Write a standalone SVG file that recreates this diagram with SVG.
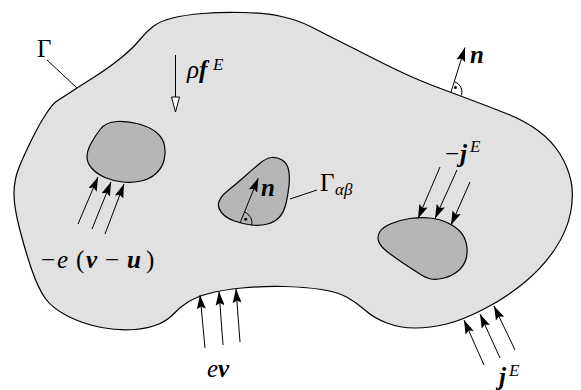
<svg xmlns="http://www.w3.org/2000/svg" width="581" height="390" viewBox="0 0 581 390">
<defs>
<style>
.dom{fill:#e1e1e1;stroke:#000;stroke-width:1.2}
.inc{fill:#b6b6b6;stroke:#000;stroke-width:1.2}
.arr{stroke:#000;stroke-width:1;fill:none;marker-end:url(#ah)}
.ln{stroke:#000;stroke-width:1;fill:none}
.t{font-family:"Liberation Serif","DejaVu Serif",serif;font-size:25px;fill:#000}
.i{font-style:italic}
.b{font-weight:bold;font-style:italic}
.s{font-size:17px;font-style:italic}
</style>
<marker id="ah" viewBox="0 0 14 9" refX="14" refY="4.5" markerWidth="14" markerHeight="9" markerUnits="userSpaceOnUse" orient="auto">
<path d="M0,0 L14,4.5 L0,9 L2.5,4.5 z" fill="#000"/>
</marker>
</defs>
<rect width="581" height="390" fill="#fff"/>
<g id="domain">
<path class="dom" d="M57,101 L67,94.5 Q77,88 93.5,77.5 Q110,67 121.5,57.5 Q133,48 139.5,40 Q146,32 153,26.5 Q160,21 172.5,18 Q185,15 202.5,13.5 Q220,12 242.5,12.5 Q265,13 281.5,16.5 Q298,20 311.5,27 Q325,34 341,42 Q357,50 373.5,58.5 Q390,67 406.5,74.5 Q423,82 436.5,87 Q450,92 470,99.5 Q490,107 507.5,114 Q525,121 538.5,131 Q552,141 560,154 Q568,167 571,181 Q574,195 570.5,213 Q567,231 555,249 Q543,267 525,282 Q507,297 485,308.5 Q463,320 446.5,324 Q430,328 415,328 Q400,328 387,323 Q374,318 365.5,310.5 Q357,303 347.5,297.5 Q338,292 321.5,289.5 Q305,287 283.5,286.5 Q262,286 242,288 Q222,290 209,293.5 Q196,297 188,302 Q180,307 174,313.5 Q168,320 159,324 Q150,328 135,329.5 Q120,331 101.5,327.5 Q83,324 67.5,316 Q52,308 45,298 Q38,288 31.5,269 Q25,250 19.5,228.5 Q14,207 14,193.5 Q14,180 19,167.5 Q24,155 32,139 Q40,123 46,114 Q52,105 54.5,103 Z"/>
</g>
<g id="inclusion-left">
<path class="inc" d="M100.5,129 Q106,122 117,121.5 Q128,121 139,124 Q150,127 156.5,132.5 Q163,138 164.5,145.5 Q166,153 164,160.5 Q162,168 156,173.5 Q150,179 141,181 Q132,183 122.5,182 Q113,181 105,177.5 Q97,174 92,168.5 Q87,163 87,157 Q87,151 91,143.5 Q95,136 100.5,129 Z"/>
</g>
<g id="inclusion-center">
<path class="inc" d="M271.5,157.5 Q277,157 282,160 Q287,163 288.5,169.5 Q290,176 289,185.5 Q288,195 286,203.5 Q284,212 279.5,217 Q275,222 267.5,224 Q260,226 251.5,225 Q243,224 234.5,221 Q226,218 221.5,212.5 Q217,207 219,201.5 Q221,196 228,190.5 Q235,185 243.5,177.5 Q252,170 259,164 Q266,158 271.5,157.5 Z"/>
</g>
<g id="inclusion-right">
<path class="inc" d="M380,231.5 Q383,227 391.5,223.5 Q400,220 410,218.5 Q420,217 430,218 Q440,219 448,223 Q456,227 460.5,232 Q465,237 466.5,244.5 Q468,252 466,259 Q464,266 458,271 Q452,276 444,278 Q436,280 431,279 Q426,278 419,273.5 Q412,269 403,263 Q394,257 387,251.5 Q380,246 378.5,241 Q377,236 380,231.5 Z"/>
</g>
<g id="connectors">
<line class="ln" x1="47" y1="60" x2="77" y2="88"/>
<line class="ln" x1="290" y1="199" x2="317" y2="190"/>
<line class="ln" x1="175.5" y1="55" x2="175.5" y2="97"/>
<path d="M171.5,97 L179.5,97 L175.5,112 Z" fill="#fff" stroke="#000" stroke-width="1"/>
<line class="arr" x1="451" y1="92" x2="465" y2="47.5"/>
<path class="ln" d="M454.3,81.5 A11,11 0 0 1 461.5,95.3"/>
<circle cx="455.5" cy="87.5" r="1.5" fill="#000"/>
<line class="arr" x1="240" y1="223" x2="258.3" y2="178"/>
<path class="ln" d="M244.5,211.9 A12,12 0 0 1 251.8,225.3"/>
<circle cx="245.7" cy="219.3" r="1.5" fill="#000"/>
<line class="arr" x1="78" y1="224" x2="98" y2="177"/>
<line class="arr" x1="92" y1="229" x2="111" y2="182"/>
<line class="arr" x1="105" y1="234" x2="124" y2="184"/>
<line class="arr" x1="440" y1="167" x2="418" y2="218.5"/>
<line class="arr" x1="457" y1="170" x2="435" y2="218.5"/>
<line class="arr" x1="470" y1="182" x2="451" y2="225"/>
<line class="arr" x1="205" y1="348" x2="200" y2="295"/>
<line class="arr" x1="223" y1="345" x2="219" y2="291.5"/>
<line class="arr" x1="240" y1="342" x2="236" y2="289"/>
<line class="arr" x1="484" y1="365" x2="464" y2="320"/>
<line class="arr" x1="500" y1="358" x2="480" y2="314"/>
<line class="arr" x1="515" y1="350" x2="494" y2="306"/>
</g>
<g id="labels">
<text class="t" x="37" y="57" font-size="26">Γ</text>
<text class="t" x="320" y="190.7" font-size="26">Γ<tspan class="s" x="335" y="195">αβ</tspan></text>
<text class="t" x="187" y="78"><tspan class="i">ρ</tspan><tspan class="b">f</tspan><tspan class="s" x="213" y="70">E</tspan></text>
<text class="t" x="470" y="63"><tspan class="b">n</tspan></text>
<text class="t" x="261" y="196"><tspan class="b">n</tspan></text>
<text class="t" x="445" y="162">−<tspan class="b" x="460">j</tspan><tspan class="s" x="470" y="152">E</tspan></text>
<text class="t" x="41" y="268">−<tspan class="i" x="57">e</tspan><tspan x="76">(</tspan><tspan class="b" x="86">v</tspan><tspan x="105">−</tspan><tspan class="b" x="127">u</tspan><tspan x="146">)</tspan></text>
<text class="t" x="207" y="377"><tspan class="i">e</tspan><tspan class="b">v</tspan></text>
<text class="t" x="499" y="385"><tspan class="b">j</tspan><tspan class="s" x="509" y="376">E</tspan></text>
</g>
</svg>
